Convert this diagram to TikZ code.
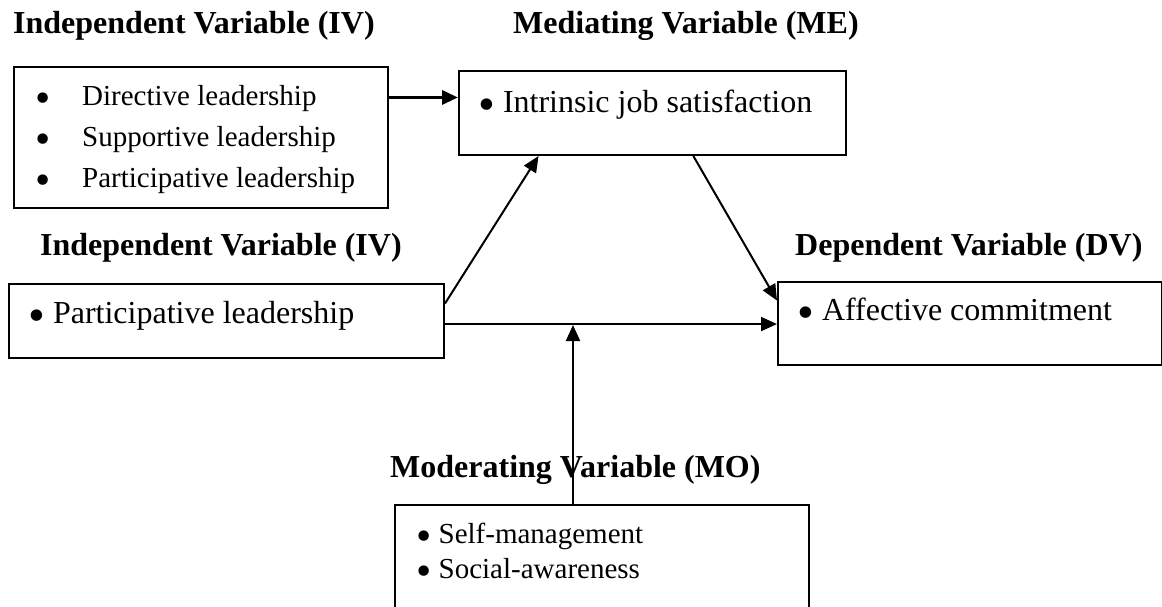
\documentclass[tikz,border=0pt]{standalone}
\usepackage{fontspec}
\setmainfont{Liberation Serif}
\usetikzlibrary{
  arrows.meta,
  positioning,
  calc
}
\newcommand{\bul}{\smash{\raisebox{-0.27em}{\scalebox{1.5}{\textbullet}}}}
\tikzset{
  vbox/.style={
    draw=black,
    line width=2pt,
    fill=none,
    inner sep=0pt,
    anchor=north west
  },
  headtext/.style={
    anchor=base west,
    inner sep=0pt,
    font=\fontsize{32}{38}\selectfont\bfseries
  },
  itemtext/.style={
    anchor=base west,
    inner sep=0pt,
    align=left,
    font=\fontsize{32}{38}\selectfont
  },
  listtext/.style={itemtext,font=\fontsize{29}{41}\selectfont},
  arrow/.style={-{Triangle[length=16pt,width=14pt]},line width=2pt,draw=black},
  thickarrow/.style={arrow,line width=3.3pt}
}

\begin{document}
\begin{tikzpicture}[x=1pt,y=-1pt]
  \useasboundingbox (0,0) rectangle (1162,606);
  \clip (0,0) rectangle (1162,606);

  % headings
  \node[headtext] (ivhead) at (13,33) {Independent Variable (IV)};
  \node[headtext] (mehead) at (513,33) {Mediating Variable (ME)};
  \node[headtext] (ivtwohead) at (40,255) {Independent Variable (IV)};
  \node[headtext] (dvhead) at (795,255) {Dependent Variable (DV)};
  \node[headtext] (mohead) at (390,477) {Moderating Variable (MO)};

  % boxes
  \node[vbox, minimum width=374, minimum height=141] (ivone) at (13,66) {};
  \node[vbox, minimum width=387, minimum height=84] (me) at (458,70) {};
  \node[vbox, minimum width=435, minimum height=74] (ivtwo) at (8,283) {};
  \node[vbox, minimum width=384, minimum height=83] (dv) at (777,281) {};
  \node[vbox, minimum width=414, minimum height=140] (mo) at (394,504) {};

  % box texts (base = last line)
  \node[listtext] (ivonelist) at (35,187) {\makebox[47pt][l]{\bul}Directive leadership\\
    \makebox[47pt][l]{\bul}Supportive leadership\\
    \makebox[47pt][l]{\bul}Participative leadership};
  \node[itemtext] (metext) at (478,112) {\bul\ Intrinsic job satisfaction};
  \node[itemtext] (ivtwotext) at (28,323) {\bul\ Participative leadership};
  \node[itemtext] (dvtext) at (797,320) {\bul\ Affective commitment};
  \node[listtext, font=\fontsize{29}{35}\selectfont] (molist) at (416,578) {\bul\ Self-management\\
    \bul\ Social-awareness};

  % paths
  \coordinate (ivoneout) at ($(ivone.north east)!0.22!(ivone.south east)$);
  \draw[thickarrow] (ivoneout) -- (ivoneout -| me.west);
  \draw[arrow] ($(ivtwo.north east)!0.27!(ivtwo.south east)$) -- ($(me.south west)!0.207!(me.south east)$);
  \draw[arrow] ($(me.south west)!0.605!(me.south east)$) -- ($(dv.north west)!0.23!(dv.south west)$);
  \coordinate (ivtwoout) at ($(ivtwo.north east)!0.54!(ivtwo.south east)$);
  \draw[arrow] (ivtwoout) -- (ivtwoout -| dv.west);
  \coordinate (meet) at (573,325);
  \draw[arrow] (meet |- mo.north) -- (meet);
\end{tikzpicture}
\end{document}
